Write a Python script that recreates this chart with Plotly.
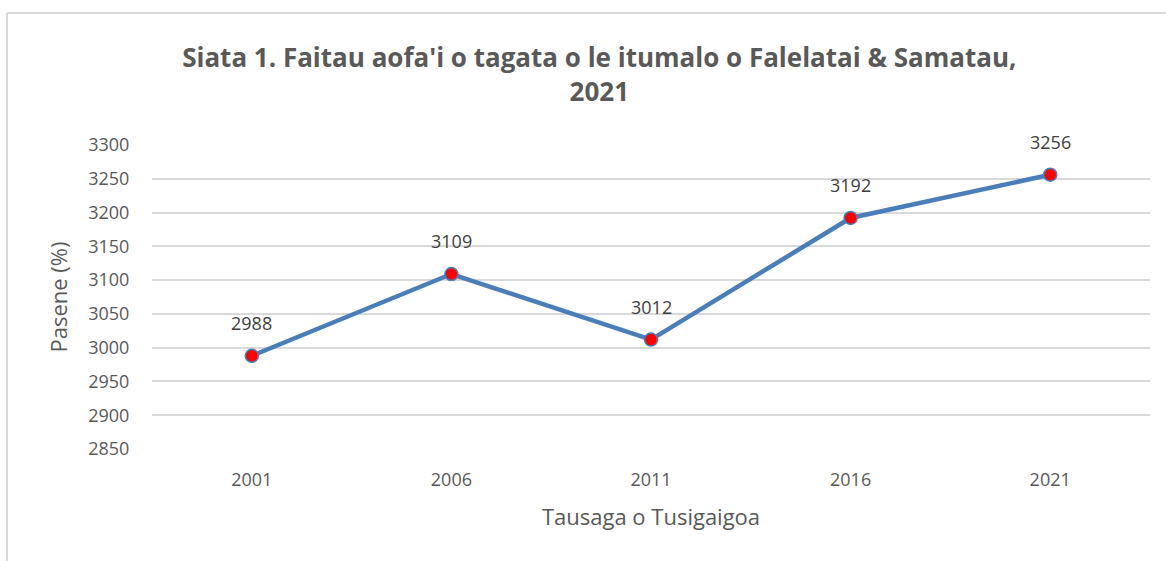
import plotly.graph_objects as go

years = ["2001", "2006", "2011", "2016", "2021"]
population = [2988, 3109, 3012, 3192, 3256]
y_ticks = [2850, 2900, 2950, 3000, 3050, 3100, 3150, 3200, 3250, 3300]

GREY = "#595959"
GRID = "#D9D9D9"
FONT = "Open Sans, Liberation Sans, sans-serif"

fig = go.Figure()

fig.add_trace(
    go.Scatter(
        x=years,
        y=population,
        mode="lines+markers",
        line=dict(color="#4A7EBB", width=4.5),
        marker=dict(size=13, color="#FF0000", line=dict(color="#4A7EBB", width=1.5)),
        showlegend=False,
        hoverinfo="x+y",
    )
)

# data labels above each point (category axis -> use serial index)
for i, val in enumerate(population):
    fig.add_annotation(
        x=i, y=val, text=str(val), showarrow=False, yshift=33,
        font=dict(family=FONT, size=18, color="#404040"),
    )

# chart border (left and top edges visible in the crop)
fig.add_shape(type="line", xref="paper", yref="paper", x0=-0.1453, x1=-0.1453,
              y0=-1.0, y1=1.434, line=dict(color=GRID, width=2))
fig.add_shape(type="line", xref="paper", yref="paper", x0=-0.1453, x1=1.5,
              y0=1.434, y1=1.434, line=dict(color=GRID, width=2))

fig.update_layout(
    width=1166,
    height=561,
    paper_bgcolor="white",
    plot_bgcolor="white",
    margin=dict(l=152, r=16, t=145, b=112),
    title=dict(
        text="Siata 1. Faitau aofa'i o tagata o le itumalo o Falelatai & Samatau,<br>2021",
        x=0.514,
        xanchor="center",
        y=0.88,
        yanchor="middle",
        font=dict(family=FONT, size=26, color=GREY, weight="bold"),
    ),
    xaxis=dict(
        type="category",
        range=[-0.5, 4.5],
        showgrid=False,
        zeroline=False,
        showline=False,
        ticks="outside",
        ticklen=14,
        tickcolor="rgba(0,0,0,0)",
        tickfont=dict(family=FONT, size=18, color=GREY),
        title=dict(text="Tausaga o Tusigaigoa", standoff=20,
                   font=dict(family=FONT, size=22, color=GREY)),
    ),
    yaxis=dict(
        range=[2850, 3300],
        tickvals=y_ticks,
        showgrid=True,
        gridcolor=GRID,
        gridwidth=1.5,
        zeroline=False,
        showline=False,
        ticks="outside",
        ticklen=18,
        tickcolor="rgba(0,0,0,0)",
        tickfont=dict(family=FONT, size=18, color=GREY),
        title=dict(text="Pasene (%)", standoff=14,
                   font=dict(family=FONT, size=22, color=GREY)),
    ),
)

# remove the default 8px body margin so the figure sits at the page origin
fig.write_html(
    "out.html",
    config={"displayModeBar": False},
    post_script="document.body.style.margin='0px';",
)
